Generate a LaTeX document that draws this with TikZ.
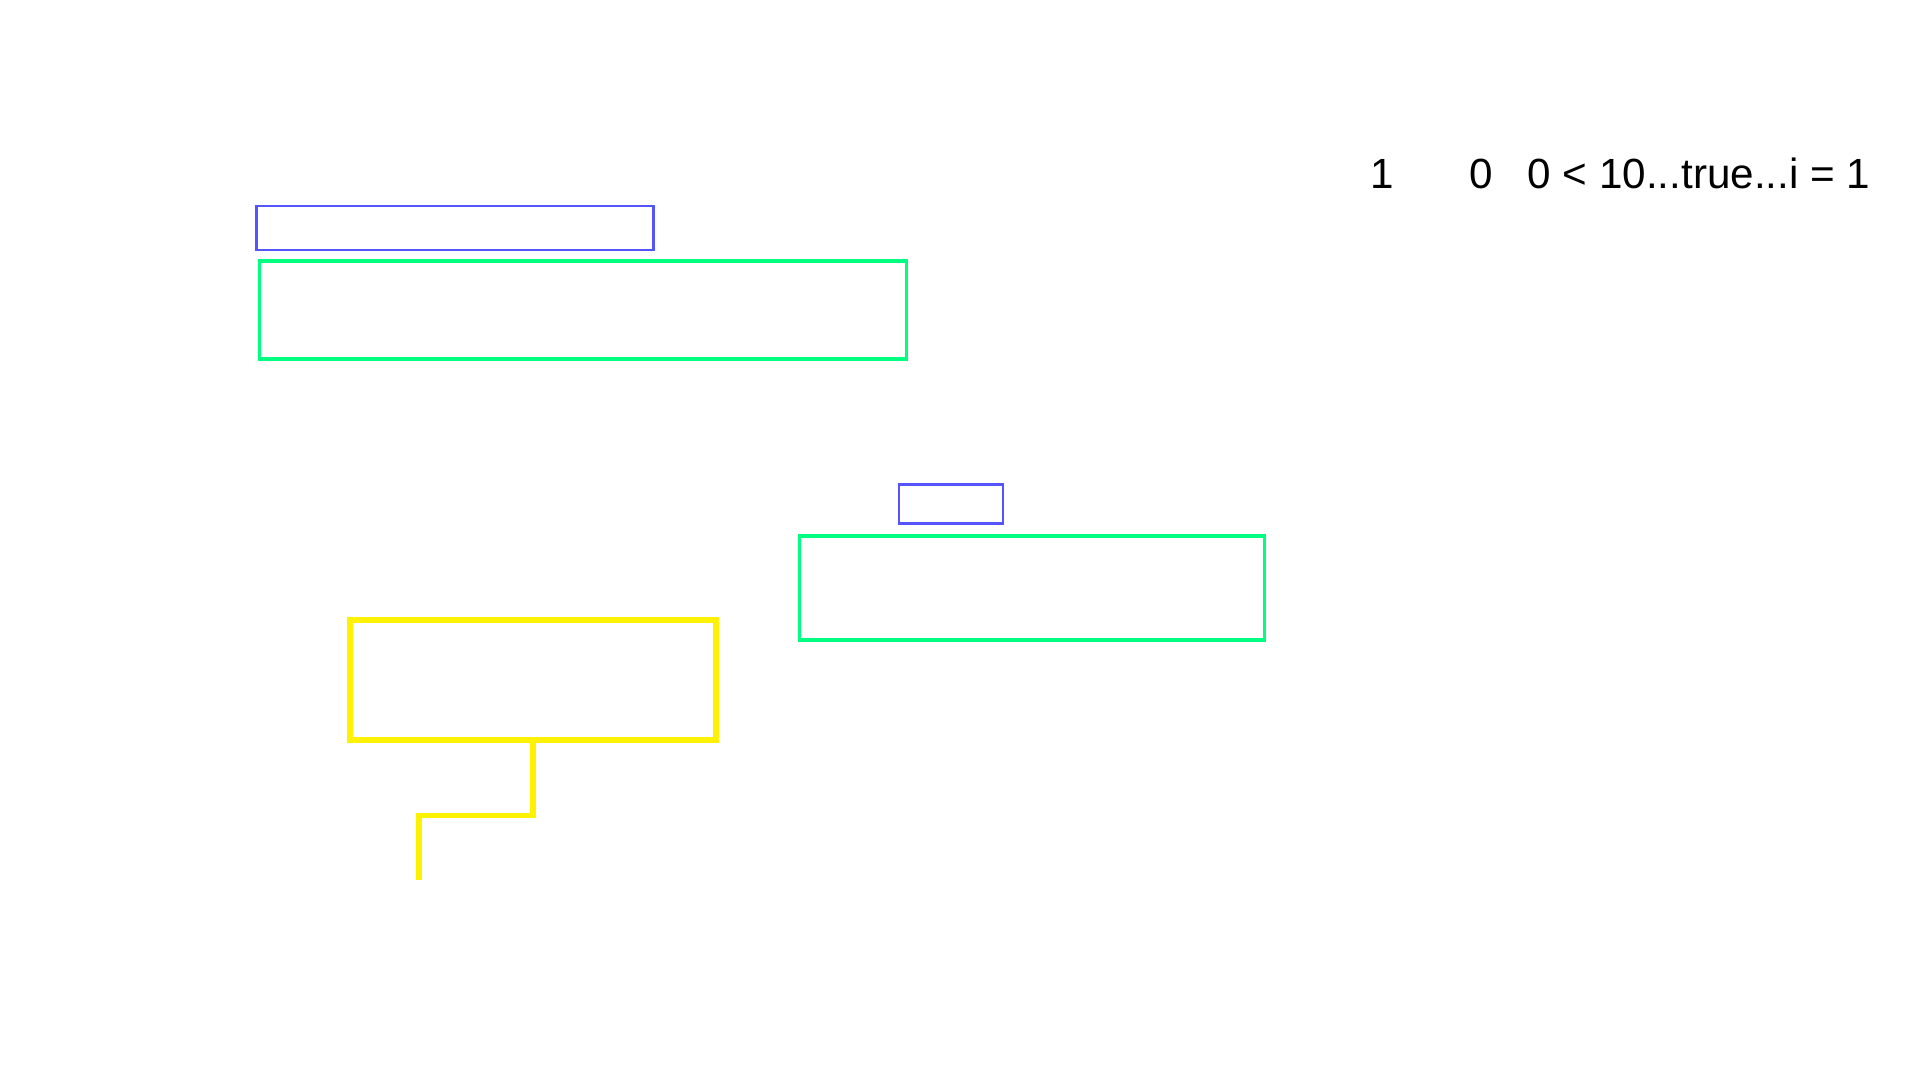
\documentclass[tikz,border=0pt]{standalone}
\usepackage{fontspec}
\setmainfont{Liberation Sans}
\definecolor{boxblue}{RGB}{85,85,255}
\definecolor{boxgreen}{RGB}{0,255,128}
\begin{document}
\begin{tikzpicture}[x=0.01cm,y=-0.01cm, font=\fontsize{12}{14}\selectfont, line join=miter]
			\tikzset{blu/.style={draw=boxblue, line width=0.8pt, inner sep=0pt},
				grn/.style={draw=boxgreen, line width=0.9pt, inner sep=0pt},
				yel/.style={draw=yellow, line width=1.5pt, inner sep=0pt}}
			\useasboundingbox (0,0) rectangle (1920,1080);
			% boxes
			\node[blu, minimum width=3.96cm, minimum height=0.44cm] (b1) at (455,228) {};
			\node[grn, minimum width=6.46cm, minimum height=0.98cm] (g1) at (583,310) {};
			\node[blu, minimum width=1.04cm, minimum height=0.39cm] (b2) at (951,504) {};
			\node[grn, minimum width=4.65cm, minimum height=1.04cm] (g2) at (1032,588) {};
			\node[yel, minimum width=3.66cm, minimum height=1.20cm] (y1) at (533,680) {};
			\coordinate (yend) at (419,880);
			\draw[yellow, line width=1.5pt] (y1.south) |- ++(-114,73) -- (yend);
			% values
			\node[anchor=base west, inner sep=0pt] (v1) at (1370,189) {1};
			\node[anchor=base west, inner sep=0pt] (v2) at (1469,189) {0};
			\node[anchor=base west, inner sep=0pt] (v3) at (1527,189) {0 < 10...true...i = 1};
\end{tikzpicture}
\end{document}
